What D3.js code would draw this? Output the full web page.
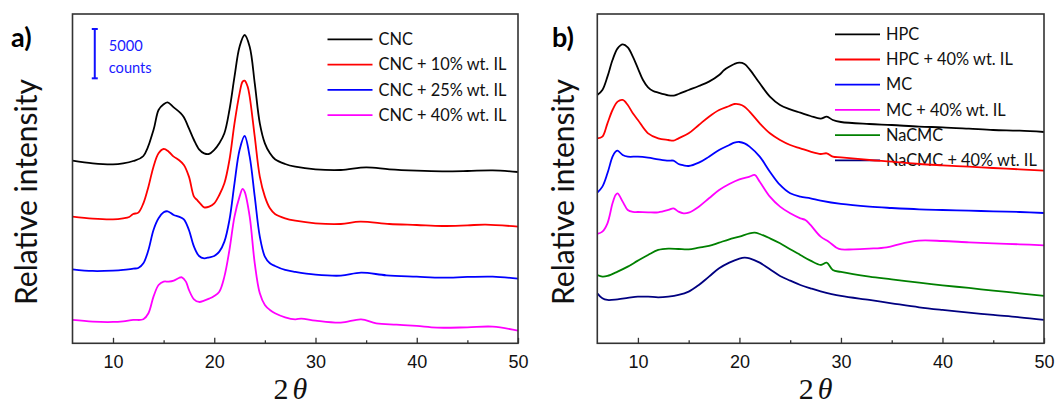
<!DOCTYPE html>
<html>
<head>
<meta charset="utf-8">
<script src="https://cdn.jsdelivr.net/npm/d3@7"></script>
<style>
  body { margin: 0; background: #fff; }
  svg { display: block; }
</style>
</head>
<body>
<svg id="chart" width="1059" height="407"></svg>
<script>
// ---- data: [2theta, relative intensity (stacked, a.u.)] ----
var cnc = [[6,54.8],[8,54.0],[10,53.7],[11,54.0],[12,54.7],[13,56.2],[14,64.0],[14.5,70.0],[15,71.7],[15.4,72.3],[16,70.8],[16.7,69.0],[17,67.8],[17.5,64.5],[18,61.0],[18.5,58.2],[19,57.0],[19.5,56.8],[20,58.0],[20.5,60.0],[21,63.0],[21.5,70.0],[22,80.0],[22.5,89.0],[23,92.5],[23.5,89.0],[24,78.0],[24.5,66.0],[25,60.0],[25.5,57.0],[26,55.2],[27,53.8],[28,53.0],[30,52.2],[32.5,52.0],[35,52.8],[37.3,52.2],[40,51.8],[42.5,51.6],[45,51.7],[47.5,51.9],[50,51.4]];
var cnc10 = [[6,38.0],[8,37.4],[10,37.2],[11,37.5],[11.6,37.9],[12,38.8],[12.5,39.2],[13,42.0],[13.5,47.0],[14,53.0],[14.5,57.0],[15,58.3],[15.5,57.5],[16,56.0],[16.5,55.0],[17,53.5],[17.5,50.0],[18,44.0],[18.3,43.0],[18.6,42.0],[19,40.8],[19.5,41.0],[20,42.0],[20.5,44.5],[21,48.0],[21.5,55.0],[22,66.0],[22.5,75.0],[22.8,78.5],[23,78.8],[23.3,77.0],[23.5,74.0],[24,62.0],[24.5,50.0],[25,44.0],[25.5,40.5],[26,38.8],[27,37.5],[28,36.8],[30,36.0],[32.5,35.8],[34.4,36.5],[37.3,35.8],[40,35.5],[42.5,35.2],[45,35.4],[46.8,35.6],[50,35.0]];
var cnc25 = [[6,22.2],[8,21.7],[10,21.8],[11,22.0],[12,22.4],[12.5,22.6],[13,24.0],[13.5,28.0],[14,34.0],[14.5,37.5],[15,39.3],[15.4,39.6],[16,38.5],[16.5,38.0],[17,37.2],[17.5,34.0],[18,29.0],[18.5,26.2],[19,25.5],[19.5,25.8],[20,26.2],[20.5,27.5],[21,30.5],[21.5,37.0],[22,48.0],[22.5,58.0],[23,62.2],[23.5,56.0],[24,44.0],[24.5,32.0],[25,26.0],[25.5,24.0],[26,23.2],[27,22.0],[28,21.4],[30,20.6],[32.5,20.3],[34.5,21.2],[37,20.4],[40,20.0],[42.5,19.7],[45,19.9],[47.5,20.0],[50,19.4]];
var cnc40 = [[6,7.0],[8,6.5],[10,6.4],[11,6.6],[12,7.0],[13,7.2],[13.5,9.0],[14,14.0],[14.5,17.5],[15,18.5],[15.5,18.5],[16,18.8],[16.5,19.6],[16.8,19.8],[17.2,18.5],[17.5,16.0],[18,13.2],[18.5,12.4],[19,12.8],[19.5,13.4],[20,14.2],[20.5,15.5],[21,20.0],[21.5,28.0],[22,38.0],[22.5,44.0],[22.8,46.3],[23,45.5],[23.5,38.0],[24,24.0],[24.5,15.0],[25,11.5],[25.5,10.0],[26,9.0],[27,7.8],[28,7.2],[28.6,7.4],[30,6.8],[32.5,6.2],[34.5,7.2],[36,6.0],[38,5.6],[40,5.2],[42,4.7],[45,4.8],[47.5,5.0],[50,3.8]];

var hpc = [[6,74.5],[6.5,76.0],[7,80.0],[7.5,85.0],[8,88.5],[8.5,89.7],[9,88.8],[9.5,86.0],[10,82.5],[10.5,79.0],[11,76.8],[11.5,75.7],[12,75.2],[13,74.4],[13.5,74.3],[14,74.8],[15,76.0],[16,77.2],[17,78.5],[18,80.5],[18.5,82.0],[19,83.0],[19.5,83.8],[20,84.2],[20.5,83.8],[21,82.2],[22,78.0],[23,74.0],[24,71.5],[25,70.2],[26,69.2],[27,68.2],[28,67.4],[28.6,68.0],[29.2,67.0],[30,66.4],[32.8,65.8],[35,65.5],[37.7,65.0],[40,64.8],[42.6,64.4],[45,64.0],[47.6,63.8],[50,63.4]];
var hpc40 = [[6,61.5],[6.5,62.0],[7,66.0],[7.5,70.0],[8,72.5],[8.5,73.0],[9,71.5],[9.5,69.0],[10,67.0],[11,63.0],[12,61.5],[13,61.0],[13.5,60.8],[14,61.5],[15,63.0],[16,65.5],[17,68.0],[18,70.0],[19,71.2],[19.5,71.8],[20,71.7],[20.5,71.0],[21,69.5],[22,66.0],[23,63.0],[24,61.0],[25,59.5],[26,58.5],[27,57.5],[28,56.8],[28.6,57.0],[29.2,56.0],[30,55.8],[32.8,55.0],[35,54.5],[37.7,53.8],[40,53.4],[42.6,53.0],[45,52.6],[47.6,52.2],[50,51.8]];
var mc = [[6,45.2],[6.5,47.0],[7,51.0],[7.5,56.0],[7.8,57.5],[8,57.8],[8.5,56.5],[9,56.0],[10,56.0],[11,55.7],[12,55.2],[13,54.8],[13.5,54.8],[14,53.8],[14.5,53.4],[15,53.2],[16,54.2],[17,56.0],[18,58.0],[19,59.5],[19.5,60.2],[20,60.4],[20.5,60.0],[21,59.0],[22,56.0],[23,51.5],[24,47.5],[25,45.0],[26,44.0],[27,43.5],[28,42.8],[30,41.8],[32.8,41.0],[35,40.6],[37.7,40.2],[40,40.0],[42.6,39.8],[45,39.6],[47.6,39.4],[50,39.1]];
var mc40 = [[6,32.8],[6.5,33.5],[7,36.0],[7.5,42.0],[7.8,44.5],[8,45.0],[8.5,42.5],[9,40.0],[9.5,39.4],[10,39.4],[11,39.3],[12,39.3],[13,40.0],[13.5,40.5],[14,39.5],[14.5,39.0],[15,39.2],[16,41.0],[17,43.5],[18,46.0],[19,47.8],[20,49.2],[21,50.0],[21.5,50.5],[22,48.5],[23,44.0],[24,41.0],[25,39.0],[26,37.5],[26.5,37.0],[27,35.5],[28,32.0],[28.8,30.5],[29.8,28.3],[31.2,28.2],[32.8,28.4],[34.5,28.8],[36.1,30.0],[37.7,30.8],[40,30.7],[42.6,30.3],[45,30.0],[47.6,29.7],[50,29.4]];
var nacmc = [[6,20.5],[6.5,20.0],[7,20.2],[8,21.5],[9,23.0],[10,24.8],[11,26.5],[12,28.0],[13,28.4],[14,28.3],[15,28.2],[16,28.7],[17,29.2],[18,30.2],[19,31.2],[20,32.0],[21,33.0],[21.5,33.2],[22,32.8],[23,31.5],[24,30.0],[25,28.2],[26,26.5],[27,24.8],[28,23.5],[28.6,24.2],[29.2,22.0],[30,21.4],[32.8,20.0],[35,19.2],[37.7,18.2],[40,17.4],[42.6,16.6],[45,15.8],[47.6,15.0],[50,14.2]];
var nacmc40 = [[6,15.0],[6.5,13.5],[7,13.0],[8,13.2],[9,13.6],[10,14.0],[11,14.0],[12,13.8],[13,14.0],[14,14.5],[15,15.5],[16,17.5],[17,20.0],[18,22.5],[19,24.2],[20,25.4],[20.5,25.7],[21,25.5],[22,24.2],[23,22.2],[24,20.2],[25,18.8],[26,17.5],[27,16.5],[28,15.6],[30,14.2],[32.8,13.0],[35,12.0],[37.7,10.8],[40,10.0],[42.6,9.2],[45,8.5],[47.6,7.8],[50,7.0]];

var namesA = ['CNC', 'CNC + 10% wt. IL', 'CNC + 25% wt. IL', 'CNC + 40% wt. IL'];
var seriesA = [cnc, cnc10, cnc25, cnc40];
var colorsA = ['#000000', '#ff0000', '#0000ff', '#ff00ff'];

var namesB = ['HPC', 'HPC + 40% wt. IL', 'MC', 'MC + 40% wt. IL', 'NaCMC', 'NaCMC + 40% wt. IL'];
var seriesB = [hpc, hpc40, mc, mc40, nacmc, nacmc40];
var colorsB = ['#000000', '#ff0000', '#0000ff', '#ff00ff', '#008000', '#000080'];

var xMajor = [10, 20, 30, 40, 50];
var xMinor = [15, 25, 35, 45];
var barCounts = 5000;      // scale bar in panel a
var unitsPer5000 = 14.8;   // height of that bar in intensity units

var svg = d3.select('#chart');
var plotTop = 14, plotBottom = 343.3;

// size a font so a sample string hits a given width
function fitSize(family, weight, sample, width) {
  var t = svg.append('text').attr('font-family', family).attr('font-weight', weight)
    .attr('font-size', 100).text(sample);
  var w = t.node().getComputedTextLength();
  t.remove();
  return 100 * width / w;
}
var sansFam = 'Lato, "Open Sans", sans-serif';
var legendSize = fitSize(sansFam, 400, 'CNC + 10% wt. IL', 128);
var ylabSize = fitSize(sansFam, 400, 'Relative intensity', 226);
var barTextSize = fitSize(sansFam, 400, 'counts', 43);

function drawPanel(p) {
  var x = d3.scaleLinear().domain([6, 50]).range([p.left, p.right]);
  var y = d3.scaleLinear().domain([0, 98.8]).range([plotBottom, plotTop]);
  var g = svg.append('g');

  // legend first, the curves run over it
  var leg = g.append('g');
  p.names.forEach(function (n, i) {
    var ly = p.legY + i * p.legStep;
    leg.append('line').attr('x1', p.legX).attr('x2', p.legX + 45)
      .attr('y1', ly).attr('y2', ly)
      .attr('stroke', p.colors[i]).attr('stroke-width', 1.8);
    leg.append('text').attr('x', p.legX + 51).attr('y', ly)
      .attr('dy', '0.35em')
      .attr('font-family', sansFam).attr('font-size', legendSize)
      .attr('fill', '#111').text(n);
  });

  var line = d3.line()
    .x(function (d) { return x(d[0]); })
    .y(function (d) { return y(d[1]); })
    .curve(d3.curveCatmullRom.alpha(0.5));

  g.selectAll('path.trace')
    .data(p.series)
    .enter()
    .append('path')
    .attr('class', 'trace')
    .attr('d', line)
    .attr('fill', 'none')
    .attr('stroke', function (d, i) { return p.colors[i]; })
    .attr('stroke-width', 1.8)
    .attr('stroke-linejoin', 'round');

  // ticks point inward
  var major = d3.axisBottom(x).tickValues(xMajor).tickSize(-5.5).tickPadding(12);
  var minor = d3.axisBottom(x).tickValues(xMinor).tickSize(-3).tickFormat('');
  var ax = g.append('g').attr('transform', 'translate(0,' + plotBottom + ')').call(major);
  var ax2 = g.append('g').attr('transform', 'translate(0,' + plotBottom + ')').call(minor);
  [ax, ax2].forEach(function (a) {
    a.select('.domain').remove();
    a.selectAll('line').attr('stroke', '#333').attr('stroke-width', 1.3);
  });
  ax.selectAll('text').attr('font-family', '"Liberation Sans", Arial, sans-serif')
    .attr('font-size', 18).attr('fill', '#111');

  g.append('rect').attr('x', p.left).attr('y', plotTop)
    .attr('width', p.right - p.left).attr('height', plotBottom - plotTop)
    .attr('fill', 'none').attr('stroke', '#333').attr('stroke-width', 1.6);

  g.append('text')
    .attr('transform', 'translate(' + p.ylabX + ',' + 192 + ') rotate(-90)')
    .attr('text-anchor', 'middle')
    .attr('font-family', sansFam).attr('font-size', ylabSize)
    .attr('fill', '#111').text('Relative intensity');

  var xl = g.append('text').attr('x', (p.left + p.right) / 2 - 5).attr('y', 399)
    .attr('text-anchor', 'middle')
    .attr('font-family', '"Liberation Serif", "Times New Roman", serif')
    .attr('font-size', 30).attr('fill', '#111');
  xl.append('tspan').text('2');
  xl.append('tspan').attr('dx', 4).attr('font-style', 'italic').text('\u03B8');

  g.append('text').attr('x', p.tagX).attr('y', 47)
    .attr('font-family', sansFam).attr('font-weight', 700)
    .attr('font-size', 27).attr('fill', '#000').text(p.tag);

  return { x: x, y: y, g: g };
}

var a = drawPanel({
  left: 72.5, right: 518, names: namesA, series: seriesA, colors: colorsA,
  legX: 327.5, legY: 39.3, legStep: 25.3, ylabX: 36.5, tagX: 11, tag: 'a)'
});
drawPanel({
  left: 597.3, right: 1044, names: namesB, series: seriesB, colors: colorsB,
  legX: 835, legY: 34.3, legStep: 25.2, ylabX: 574, tagX: 552, tag: 'b)'
});

// 5000 counts scale bar
var bx = a.x(8.2), bTop = a.y(94.3), bBot = a.y(94.3 - unitsPer5000 * barCounts / 5000);
var bar = a.g.append('g').attr('stroke', '#1010ff').attr('stroke-width', 2);
bar.append('line').attr('x1', bx).attr('x2', bx).attr('y1', bTop).attr('y2', bBot);
bar.append('line').attr('x1', bx - 3).attr('x2', bx + 3).attr('y1', bTop).attr('y2', bTop);
bar.append('line').attr('x1', bx - 3).attr('x2', bx + 3).attr('y1', bBot).attr('y2', bBot);
a.g.append('text').attr('x', bx + 14).attr('y', 46).attr('dy', '0.35em')
  .attr('font-family', sansFam).attr('font-size', barTextSize).attr('fill', '#1a1aff')
  .text(barCounts);
a.g.append('text').attr('x', bx + 14).attr('y', 67.5).attr('dy', '0.35em')
  .attr('font-family', sansFam).attr('font-size', barTextSize).attr('fill', '#1a1aff')
  .text('counts');
</script>
</body>
</html>
